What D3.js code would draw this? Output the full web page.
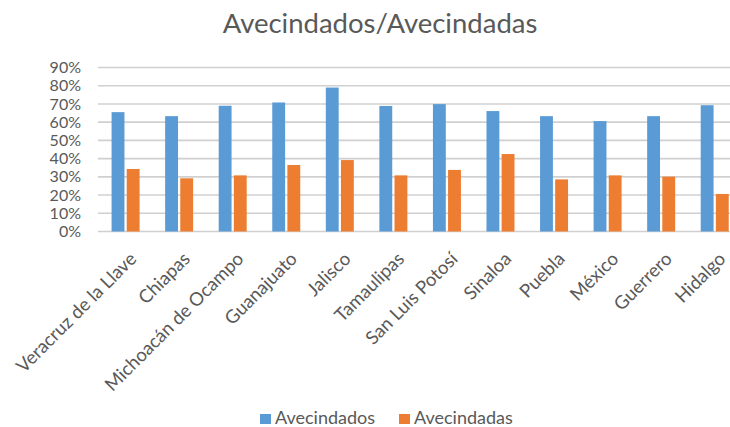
<!DOCTYPE html>
<html><head><meta charset="utf-8">
<script src="https://cdn.jsdelivr.net/npm/d3@7"></script>
<style>body{margin:0;background:#fff;} text{font-family:Lato,sans-serif;}</style>
</head><body><svg id="c" width="730" height="427"></svg>
<script>
const categories = ["Veracruz de la Llave","Chiapas","Michoacán de Ocampo","Guanajuato","Jalisco","Tamaulipas","San Luis Potosí","Sinaloa","Puebla","México","Guerrero","Hidalgo"];
const avecindados = [0.655,0.633,0.69,0.708,0.79,0.689,0.699,0.661,0.633,0.606,0.633,0.693];
const avecindadas = [0.343,0.292,0.308,0.365,0.392,0.308,0.338,0.425,0.286,0.308,0.301,0.206];
const seriesNames = ["Avecindados","Avecindadas"];
const colors = ["#5b9bd5","#ed7d31"];
const yTicks = [0,0.1,0.2,0.3,0.4,0.5,0.6,0.7,0.8,0.9];

const svg = d3.select("#c");
const x = d3.scaleBand().domain(categories).range([98.8, 741.5]);
const y = d3.scaleLinear().domain([0,0.9]).range([231.5, 67.5]);
const xs = d3.scaleBand().domain(seriesNames).range([-14, 14]).paddingInner(0.15);

svg.append("text").attr("x", 380).attr("y", 33).attr("text-anchor","middle")
  .attr("font-size", 27.5).attr("fill","#595959").text("Avecindados/Avecindadas");

const grid = svg.append("g");
grid.selectAll("line").data(yTicks).join("line")
  .attr("x1", 98).attr("x2", 730).attr("y1", d=>y(d)).attr("y2", d=>y(d))
  .attr("stroke","#d0d0d0").attr("stroke-width",1.6);

const yAxis = d3.axisLeft(y).tickValues(yTicks).tickFormat(d3.format(".0%")).tickSize(0).tickPadding(0);
const ya = svg.append("g").attr("transform","translate(81,0)").call(yAxis);
ya.select(".domain").remove();
ya.selectAll("text").attr("font-size",16).attr("fill","#595959").attr("font-family","Lato,sans-serif");

const data = categories.map((c,i)=>({c, vals:[avecindados[i], avecindadas[i]]}));
const g = svg.append("g");
data.forEach(d=>{
  d.vals.forEach((v,j)=>{
    g.append("rect")
      .attr("x", x(d.c)+x.bandwidth()/2+xs(seriesNames[j]))
      .attr("width", xs.bandwidth())
      .attr("y", y(v)).attr("height", y(0)-y(v))
      .attr("fill", colors[j]);
  });
});

const xAxis = d3.axisBottom(x).tickSize(0).tickPadding(0);
const xa = svg.append("g").attr("transform","translate(0,232)").call(xAxis);
xa.select(".domain").remove();
xa.selectAll("text").attr("font-size",18.5).attr("fill","#595959")
  .attr("font-family","Lato,sans-serif")
  .attr("text-anchor","end").attr("dy",null).attr("y",0)
  .attr("transform","translate(12,28) rotate(-45)");

const leg = svg.append("g");
const legX = [260, 399];
seriesNames.forEach((s,i)=>{
  leg.append("rect").attr("x",legX[i]).attr("y",414).attr("width",11).attr("height",10).attr("fill",colors[i]);
  leg.append("text").attr("x",legX[i]+15).attr("y",424).attr("font-size",18).attr("fill","#595959").text(s);
});
</script></body></html>
